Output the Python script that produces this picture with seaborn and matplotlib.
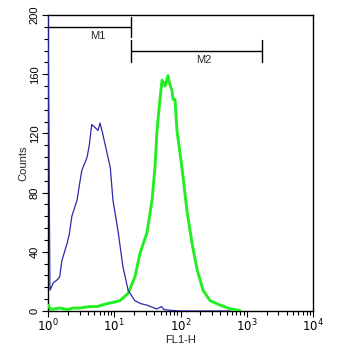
import matplotlib
matplotlib.use("Agg")
import matplotlib.pyplot as plt
import seaborn as sns
import pandas as pd
from matplotlib.ticker import LogLocator, MultipleLocator

sns.set_style("ticks")
plt.rcParams['font.family'] = ['Liberation Sans', 'DejaVu Sans']

# Blue histogram (control)
blue_fl = [1.0, 1.07, 1.2, 1.37, 1.5, 1.62, 1.95, 2.1, 2.29, 2.75, 3.0, 3.24, 3.6, 3.89, 4.2, 4.57,
           5.13, 5.69, 6.10, 6.6, 7.24, 8.71, 9.55, 11.5, 13.5, 16.2, 20.4, 25.0, 30.9, 43.7, 52.0, 56.0, 69.0,
           100.0, 316.0, 562.0]
blue_counts = [210, 14, 19, 21, 23, 34, 46, 52, 64, 75, 86, 95, 100, 104, 112, 126,
               124, 122, 127, 121, 113, 97, 75, 53, 30, 14, 7, 5, 4, 1.4, 3, 1, 0.5,
               0, 0, 0]

# Green histogram (stained)
green_fl = [1.0, 1.1, 1.5, 2.0, 2.38, 3.0, 4.3, 5.5, 7.8, 10.0, 12.2, 16.2, 20.5, 24.5, 31.2,
            37.2, 41.2, 44.2, 45.7, 49.0, 52.7, 58.4, 64.6, 69.2, 74.4, 77.1, 82.6, 88.5,
            105, 125, 149, 178, 219, 279, 395, 559, 794]
green_counts = [4, 1, 2, 1, 2, 2, 3, 3, 5, 6, 7, 12, 23, 39, 53,
                75, 97, 122, 129, 143, 156, 152, 159, 153, 149, 143, 143, 122,
                97, 68, 46, 28, 14, 7, 4, 1.5, 0.3]

x_tick_labels = [r"$10^{0}$", r"$10^{1}$", r"$10^{2}$", r"$10^{3}$", r"$10^{4}$"]
y_tick_values = [0, 40, 80, 120, 160, 200]

# Marker regions
m1_range = [1.0, 17.7]
m2_range = [17.7, 1700]
m_labels = ["M1", "M2"]

blue_df = pd.DataFrame({"FL1-H": blue_fl, "Counts": blue_counts})
green_df = pd.DataFrame({"FL1-H": green_fl, "Counts": green_counts})

fig = plt.figure(figsize=(3.4, 3.49), dpi=100)
ax = fig.add_axes([48/340, (349-311)/349, (313-48)/340, (311-15)/349])

sns.lineplot(data=green_df, x="FL1-H", y="Counts", ax=ax, color="#22ee22",
             linewidth=2.1, sort=False, estimator=None, zorder=3)
sns.lineplot(data=blue_df, x="FL1-H", y="Counts", ax=ax, color="#2a2aaa",
             linewidth=0.9, sort=False, estimator=None, zorder=4)

ax.set_xscale("log")
ax.set_xlim(1, 1e4)
ax.set_ylim(0, 200)
ax.set_xticks([1, 10, 100, 1000, 10000])
ax.xaxis.set_minor_locator(LogLocator(base=10, subs=range(2, 10), numticks=100))
ax.set_xticklabels(x_tick_labels)
ax.set_yticks(y_tick_values)
ax.set_yticklabels([str(v) for v in y_tick_values], rotation=90, va="center")
ax.yaxis.set_minor_locator(MultipleLocator(8))

ax.tick_params(axis="both", which="major", direction="out", length=4, width=0.8,
               labelsize=8, pad=2, colors="black")
ax.tick_params(axis="both", which="minor", direction="out", length=3, width=0.8, colors="black")
ax.tick_params(axis="x", which="major", labelsize=8.5, pad=1)

for s in ax.spines.values():
    s.set_visible(True)
    s.set_linewidth(1.0)
    s.set_color("black")

ax.set_xlabel("FL1-H", fontsize=8, labelpad=0)
ax.set_ylabel("Counts", fontsize=8, labelpad=1)

# Marker bars
ax.plot(m1_range, [191.7, 191.7], color="black", lw=1.0, zorder=5)
ax.plot([m1_range[1], m1_range[1]], [185, 198.6], color="black", lw=1.0, zorder=5)
ax.text(5.7, 185.5, m_labels[0], ha="center", va="center", fontsize=8)
ax.plot(m2_range, [175.9, 175.9], color="black", lw=1.0, zorder=5)
for xv in m2_range:
    ax.plot([xv, xv], [168, 183], color="black", lw=1.0, zorder=5)
ax.text(226, 169.3, m_labels[1], ha="center", va="center", fontsize=8)

fig.savefig("out.png", dpi=100)
